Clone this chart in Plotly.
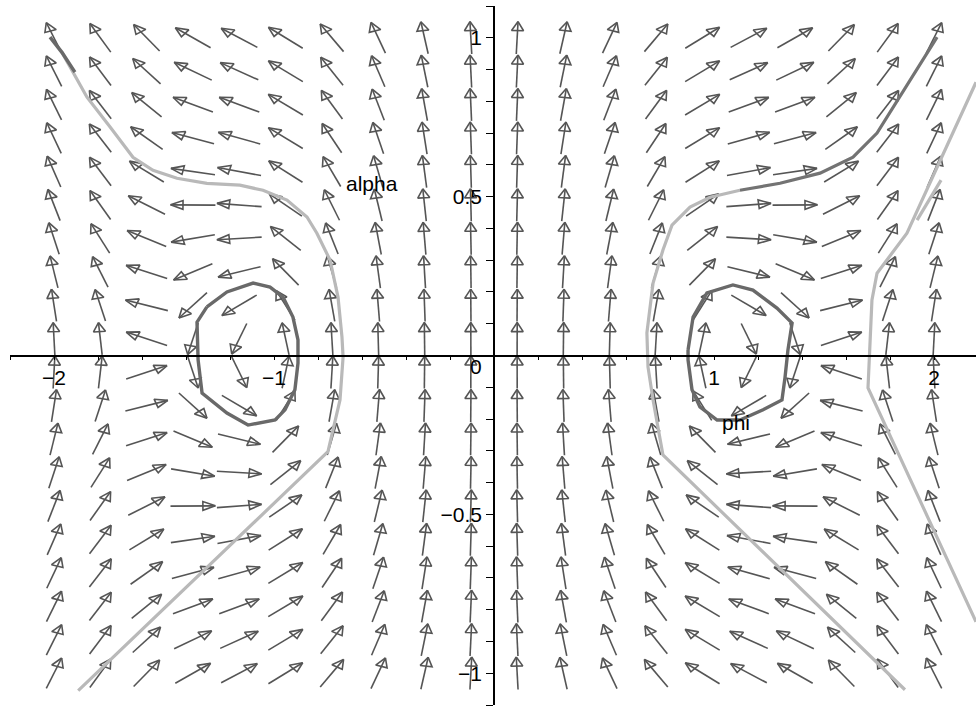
import numpy as np
import plotly.graph_objects as go

# ---------------- data ----------------
# direction-field grid (20 x 20 arrows)
x_grid = np.linspace(-2, 2, 20)
y_grid = np.linspace(-1, 1, 20)

# per-column field coefficients for the left half (x = -2 ... -0.105);
# direction ~ (c*y, a + b*y^2) in cell units, mirrored for the right half
field_a = [1.0, 0.5, 0.0144, -0.22, -0.17, 0.65, 1.0, 1.0, 1.0, 1.0]
field_b = [1.0, 1.0, 1.0, 1.0, 1.0, 1.0, 0.345, 0.118, 0.0, 0.0]
field_c = [-0.73, -0.79, -0.72, -0.99, -1.13, -1.95, -0.82, -0.38, -0.165, -0.04]

# trajectories (phi, alpha)
left_outer_dark_x = [-2.018, -1.964, -1.905]
left_outer_dark_y = [1.002, 0.954, 0.892]
left_outer_x = [-1.964, -1.85, -1.745, -1.641, -1.55, -1.441, -1.305, -1.155, -1.05, -0.941,
                -0.85, -0.805, -0.745, -0.709, -0.691, -0.686, -0.70, -0.732, -0.755, -1.89]
left_outer_y = [0.954, 0.813, 0.719, 0.624, 0.583, 0.558, 0.542, 0.536, 0.520, 0.489,
                0.436, 0.385, 0.300, 0.184, 0.058, -0.005, -0.14, -0.234, -0.303, -1.055]

right_outer_dark_x = [2.014, 1.968, 1.845, 1.741, 1.632, 1.482, 1.30, 1.118]
right_outer_dark_y = [1.002, 0.951, 0.813, 0.700, 0.624, 0.574, 0.542, 0.520]
right_outer_x = [1.118, 0.982, 0.891, 0.809, 0.768, 0.723, 0.695, 0.70, 0.723, 0.755, 0.768, 1.868]
right_outer_y = [0.520, 0.498, 0.467, 0.410, 0.332, 0.228, 0.071, -0.036, -0.140, -0.266, -0.313, -1.052]

left_orbit_x = [-1.305, -1.214, -1.095, -1.018, -0.959, -0.914, -0.891, -0.891, -0.905, -0.95,
                -0.995, -1.118, -1.214, -1.327, -1.345, -1.35, -1.305]
left_orbit_y = [0.153, 0.200, 0.228, 0.215, 0.184, 0.121, 0.049, -0.024, -0.108, -0.171,
                -0.203, -0.219, -0.181, -0.118, -0.014, 0.105, 0.153]

right_orbit_x = [0.882, 0.905, 0.968, 1.086, 1.177, 1.286, 1.355, 1.336, 1.323, 1.309,
                 1.223, 1.118, 1.014, 0.936, 0.90, 0.882, 0.882]
right_orbit_y = [0.017, 0.121, 0.197, 0.222, 0.206, 0.149, 0.102, 0.017, -0.068, -0.140,
                 -0.171, -0.203, -0.203, -0.162, -0.108, -0.014, 0.017]

far_right_x = [2.191, 2.086, 1.982, 1.877, 1.741, 1.718, 1.70, 2.191]
far_right_y = [0.860, 0.700, 0.542, 0.385, 0.259, 0.175, -0.102, -0.838]
far_right_short_x = [2.032, 1.923]
far_right_short_y = [0.552, 0.426]

x_ticks = [-2, -1, 1, 2]
y_ticks = [-1, -0.5, 0.5, 1]

# ---------------- build arrows ----------------
dxc = 4 / 19
dyc = 2 / 19
L = 0.97
HL = 0.27
HW = 0.13
ax_x, ax_y = [], []
for j, x0 in enumerate(x_grid):
    k = j if j < 10 else 19 - j
    sgn = 1.0 if j < 10 else -1.0
    for y0 in y_grid:
        U = sgn * field_c[k] * y0
        V = field_a[k] + field_b[k] * y0 ** 2
        n = np.hypot(U, V)
        ux, uy = U / n, V / n
        tx, ty = -ux * L / 2, -uy * L / 2
        hx, hy = ux * L / 2, uy * L / 2
        bx, by = hx - ux * HL, hy - uy * HL
        px, py = -uy * HW, ux * HW
        pts = [(tx, ty), (hx, hy), None,
               (hx, hy), (bx + px, by + py), (bx - px, by - py), (hx, hy), None]
        for p in pts:
            if p is None:
                ax_x.append(None)
                ax_y.append(None)
            else:
                ax_x.append(x0 + p[0] * dxc)
                ax_y.append(y0 + p[1] * dyc)

fig = go.Figure()
fig.add_trace(go.Scatter(x=ax_x, y=ax_y, mode="lines",
                         line=dict(color="rgb(85,85,85)", width=1.6),
                         hoverinfo="skip", showlegend=False))

LIGHT = "rgb(185,185,185)"
DARK = "rgb(105,105,105)"
MID = "rgb(115,115,115)"

def add_line(xs, ys, color, width=3.2):
    fig.add_trace(go.Scatter(x=xs, y=ys, mode="lines",
                             line=dict(color=color, width=width),
                             hoverinfo="skip", showlegend=False))

add_line(left_outer_x, left_outer_y, LIGHT)
add_line(left_outer_dark_x, left_outer_dark_y, DARK, 3.5)
add_line(right_outer_x, right_outer_y, LIGHT)
add_line(right_outer_dark_x, right_outer_dark_y, MID)
add_line(far_right_x, far_right_y, LIGHT)
add_line(far_right_short_x, far_right_short_y, LIGHT)
add_line(left_orbit_x, left_orbit_y, DARK, 3.4)
add_line(right_orbit_x, right_orbit_y, DARK, 3.4)

FONT = dict(family="Liberation Sans, Arial, sans-serif", size=21, color="black")

fig.add_annotation(x=-0.555, y=0.542, text="alpha", showarrow=False, font=FONT)
fig.add_annotation(x=1.1, y=-0.212, text="phi", showarrow=False, font=FONT)
fig.add_annotation(x=-0.082, y=-0.036, text="0", showarrow=False, font=FONT)

x_minor = [round(-2.2 + 0.2 * i, 2) for i in range(23)]
y_minor = [round(-1.1 + 0.1 * i, 2) for i in range(23)]

fig.update_layout(
    width=976, height=706,
    margin=dict(l=10, r=0, t=6, b=1),
    paper_bgcolor="white", plot_bgcolor="white",
    font=FONT,
    xaxis=dict(range=[-2.2, 2.1909], showgrid=False, zeroline=False,
               showline=True, linecolor="black", linewidth=1.5,
               anchor="free", position=0.5,
               ticks="outside", ticklen=4, tickcolor="black", tickwidth=1,
               tickmode="array", tickvals=x_ticks, tickfont=FONT,
               minor=dict(tickmode="array", tickvals=x_minor, ticklen=4,
                          tickcolor="black", ticks="outside", showgrid=False)),
    yaxis=dict(range=[-1.1, 1.1], showgrid=False, zeroline=False,
               showline=True, linecolor="black", linewidth=1.5,
               anchor="free", position=2.2 / 4.3909,
               ticks="outside", ticklen=7, tickcolor="black", tickwidth=1,
               tickmode="array", tickvals=y_ticks, tickfont=FONT,
               minor=dict(tickmode="array", tickvals=y_minor, ticklen=7,
                          tickcolor="black", ticks="outside", showgrid=False)),
)

fig.write_html("out.html", config={"displayModeBar": False},
               post_script="document.body.style.margin='0';document.body.style.overflow='hidden';")
